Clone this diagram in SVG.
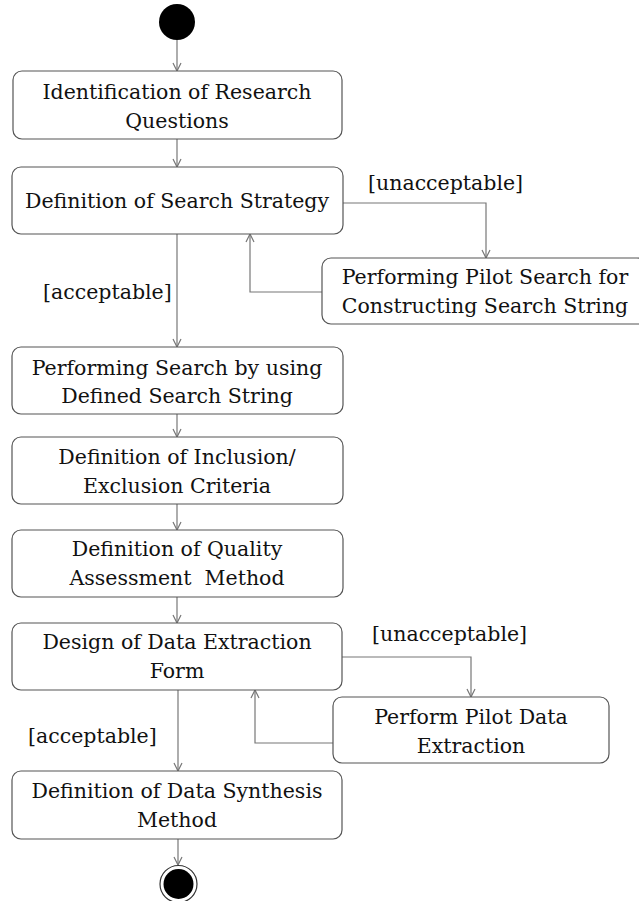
<svg xmlns="http://www.w3.org/2000/svg" width="639" height="901" viewBox="0 0 639 901">
  <style>
    .box { fill: #ffffff; stroke: #555555; stroke-width: 1.2; }
    .lbl { font-family: "DejaVu Serif", "Liberation Serif", serif; font-size: 20.5px; fill: #111111; text-anchor: middle; }
    .guard { font-family: "DejaVu Serif", "Liberation Serif", serif; font-size: 20.5px; fill: #111111; }
    .edge { fill: none; stroke: #777777; stroke-width: 1.2; marker-end: url(#open); }
  </style>
  <defs>
    <marker id="open" viewBox="0 0 10 10" refX="10" refY="5" markerWidth="10" markerHeight="10" markerUnits="userSpaceOnUse" orient="auto">
      <path d="M2,1 L10,5 L2,9" fill="none" stroke="#777777" stroke-width="1.2"/>
    </marker>
  </defs>
  <rect width="639" height="901" fill="#ffffff"/>

  <g id="connectors">
    <path class="edge" d="M177,40 V71"/>
    <path class="edge" d="M177,139 V167"/>
    <path class="edge" d="M343,203 H486 V258"/>
    <path class="edge" d="M322,292 H250 V234"/>
    <path class="edge" d="M177,234 V347"/>
    <path class="edge" d="M177,414 V437"/>
    <path class="edge" d="M177,504 V530"/>
    <path class="edge" d="M177,597 V623"/>
    <path class="edge" d="M342,657 H471 V697"/>
    <path class="edge" d="M333,743 H255 V690"/>
    <path class="edge" d="M178,690 V771"/>
    <path class="edge" d="M178,839 V865"/>
    <text class="guard" x="368" y="190">[unacceptable]</text>
    <text class="guard" x="43" y="299">[acceptable]</text>
    <text class="guard" x="372" y="641">[unacceptable]</text>
    <text class="guard" x="28" y="743">[acceptable]</text>
  </g>

  <g id="start">
    <circle cx="177" cy="22" r="18" fill="#000000"/>
  </g>

  <g id="research-questions">
    <rect class="box" x="13" y="71" width="329" height="68" rx="9"/>
    <text class="lbl" x="177" y="99">Identification of Research</text>
    <text class="lbl" x="177" y="128">Questions</text>
  </g>

  <g id="search-strategy">
    <rect class="box" x="12" y="167" width="331" height="67" rx="9"/>
    <text class="lbl" x="177" y="208">Definition of Search Strategy</text>
  </g>

  <g id="pilot-search">
    <rect class="box" x="322" y="258" width="324" height="66" rx="9"/>
    <text class="lbl" x="485" y="284">Performing Pilot Search for</text>
    <text class="lbl" x="485" y="313">Constructing Search String</text>
  </g>

  <g id="perform-search">
    <rect class="box" x="12" y="347" width="331" height="67" rx="9"/>
    <text class="lbl" x="177" y="375">Performing Search by using</text>
    <text class="lbl" x="177" y="403">Defined Search String</text>
  </g>

  <g id="inclusion-exclusion">
    <rect class="box" x="12" y="437" width="331" height="67" rx="9"/>
    <text class="lbl" x="177" y="464">Definition of Inclusion/</text>
    <text class="lbl" x="177" y="493">Exclusion Criteria</text>
  </g>

  <g id="quality-assessment">
    <rect class="box" x="12" y="530" width="331" height="67" rx="9"/>
    <text class="lbl" x="177" y="556">Definition of Quality</text>
    <text class="lbl" x="177" y="585" xml:space="preserve">Assessment  Method</text>
  </g>

  <g id="data-extraction-form">
    <rect class="box" x="12" y="623" width="330" height="67" rx="9"/>
    <text class="lbl" x="177" y="649">Design of Data Extraction</text>
    <text class="lbl" x="177" y="678">Form</text>
  </g>

  <g id="pilot-extraction">
    <rect class="box" x="333" y="697" width="276" height="66" rx="9"/>
    <text class="lbl" x="471" y="724">Perform Pilot Data</text>
    <text class="lbl" x="471" y="753">Extraction</text>
  </g>

  <g id="data-synthesis">
    <rect class="box" x="12" y="771" width="330" height="68" rx="9"/>
    <text class="lbl" x="177" y="798">Definition of Data Synthesis</text>
    <text class="lbl" x="177" y="827">Method</text>
  </g>

  <g id="end">
    <circle cx="178.5" cy="884" r="18.5" fill="#ffffff" stroke="#333333" stroke-width="1.2"/>
    <circle cx="178.5" cy="884" r="15" fill="#000000"/>
  </g>
</svg>
